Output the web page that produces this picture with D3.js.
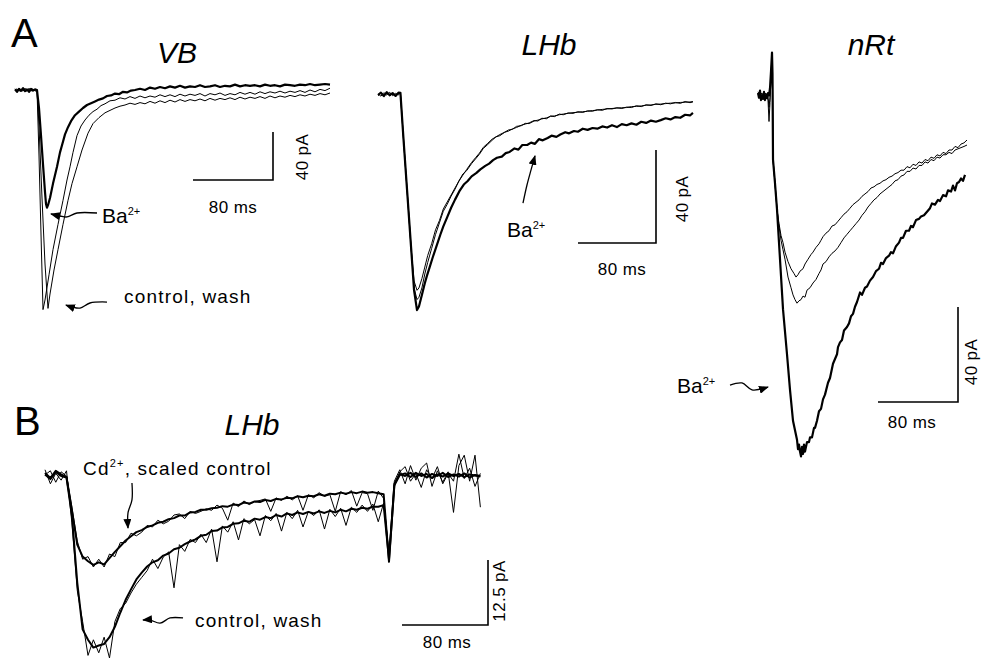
<!DOCTYPE html>
<html>
<head>
<meta charset="utf-8">
<script src="https://cdn.jsdelivr.net/npm/d3@7"></script>
<style>
  body { margin: 0; background: #fff; }
  svg { display: block; }
  text { font-family: "Liberation Sans", Arial, Helvetica, sans-serif; fill: #000; }
</style>
</head>
<body>
<svg id="fig" width="982" height="663"></svg>
<script>
// traces are [time ms, current pA], inward current negative

// --- A, VB ---
const vbBa = [[0,0.5],[2,-1.5],[4,1],[6,-0.5],[8,1.5],[10,-1],[12,0.5],[14,-1.5],[16,1],[18,-0.5],[20,0.5],[22,0],
  [24,-15],[26,-38],[28,-62],[30,-85],[31,-95],[32,-98],[33,-96],[35,-90],[38,-78],[42,-64],[45,-52],[47,-46],[50,-37],[53,-31],[56,-26],[60,-21],[64,-18],[68,-15],[72,-12.5],[76,-11],[80,-9.5],[84,-8],[88,-7],[92,-5],[96,-4.5],[100,-3],[104,-3.5],[108,-1.5],[112,-2],[116,-0.5],[120,0],[125,1],[130,0],[135,2],[140,1],[145,2.5],[150,1.5],[155,3],[160,2],[165,3.5],[170,2],[175,3],[180,2.5],[185,4],[190,2.5],[195,3],[200,4],[205,2.5],[210,3.5],[215,3],[220,4.5],[225,3],[230,4],[235,3.5],[240,4],[245,3],[250,4.5],[255,3.5],[260,4],[265,3],[270,4.5],[275,4],[280,3.5],[285,4.5],[290,4],[295,5],[300,4],[305,4.5],[310,5],[315,4.5]]
const vbControl = [[0,1],[2,-1],[4,0.5],[6,-1.5],[8,1],[10,0],[12,-1],[14,1.5],[16,-0.5],[18,1],[20,-1],[22,0],
  [24,-55],[26,-120],[28,-183],[30,-175],[34,-154],[38,-133],[43,-112],[48,-92],[52,-75],[55,-64],[58,-52],[62,-38],[66,-30],[70,-25],[74,-21],[78,-18],[82,-16],[86,-13],[90,-11.5],[95,-9],[100,-8.5],[105,-6.5],[110,-7.5],[115,-5.5],[120,-7],[125,-5],[130,-6.5],[135,-5],[140,-6],[145,-4],[150,-5.5],[155,-4],[160,-5.5],[165,-3.5],[170,-5],[175,-3.5],[180,-4.5],[185,-3],[190,-5],[195,-3],[200,-4],[205,-2.5],[210,-4.5],[215,-3],[220,-4],[225,-2],[230,-3.5],[235,-2],[240,-3.5],[245,-1.5],[250,-3],[255,-1.5],[260,-2.5],[265,-1],[270,-2.5],[275,-1],[280,-2],[285,-0.5],[290,-2],[295,0],[300,-1.5],[305,0.5],[310,-0.5],[315,1.5]]
const vbWash = [[0,-0.5],[2,1],[4,-1],[6,0.5],[8,-1],[10,1.5],[12,-0.5],[14,0.5],[16,-1],[18,0.5],[20,0],[22,0],
  [24,-30],[27,-90],[30,-145],[33,-182],[35,-170],[39,-150],[43,-133],[48,-112],[53,-92],[57,-78],[62,-64],[67,-50],[73,-36],[78,-28],[84,-23],[90,-19],[95,-17],[100,-15],[105,-13.5],[110,-12.5],[115,-11],[120,-12],[125,-10.5],[130,-11.5],[135,-9.5],[140,-11],[145,-9],[150,-10.5],[155,-8.5],[160,-10],[165,-8],[170,-9.5],[175,-8],[180,-9],[185,-7.5],[190,-9],[195,-7],[200,-8.5],[205,-7],[210,-8],[215,-6.5],[220,-8],[225,-6],[230,-7.5],[235,-6],[240,-7],[245,-5.5],[250,-7],[255,-5],[260,-6.5],[265,-5],[270,-6],[275,-4.5],[280,-5.5],[285,-4],[290,-5],[295,-3.5],[300,-4.5],[305,-3],[310,-4],[315,-2.5]]

// --- A, LHb ---
const lhbBa = [[0,0],[3,1],[6,-0.5],[9,1.2],[12,0],[15,0.8],[18,-0.4],[21,1],[23,0.9],[26,-18],[30,-42],[34,-66],[37,-84],[40,-92.5],[42,-91],[45,-86],[48,-81],[50,-78],[53,-74],[56,-70],[60,-65],[64,-60],[67,-56.5],[71,-52.5],[75,-48.5],[79,-45],[84,-41],[88,-38.5],[92,-37],[96,-35],[101,-33.5],[105,-32],[110,-30.5],[114,-29.5],[118,-28],[122,-27],[127,-26.5],[131,-25],[135,-24.5],[140,-23],[144,-23.5],[148,-21.5],[153,-21.5],[157,-20.5],[161,-21],[165,-19],[169,-19.5],[174,-18.5],[178,-17.5],[183,-18],[187,-17],[192,-16],[196,-16.5],[201,-15.5],[205,-15.8],[210,-14.5],[215,-15],[220,-14.2],[225,-14.5],[230,-13.5],[235,-14],[240,-13],[245,-13.8],[250,-12.5],[255,-13],[260,-12.2],[265,-12.8],[270,-11.5],[275,-12],[280,-11],[285,-11.5],[290,-10.8],[295,-10],[300,-10.5],[305,-9.5],[310,-9.8],[315,-8.5],[320,-8.8],[323,-7.7]]
const lhbControl = [[0,0.5],[3,-0.5],[6,1],[9,0],[12,1.2],[15,-0.3],[18,0.7],[21,0],[23,1],[26,-18],[30,-42],[34,-66],[37,-80],[40,-84],[42,-83],[45,-79],[48,-74],[51,-69],[55,-64],[59,-58],[63,-54],[67,-49],[71,-46],[75,-43],[79,-40],[83,-37],[87,-34.5],[91,-32],[96,-29],[100,-27],[104,-25],[108,-22.5],[112,-21],[117,-19],[121,-18],[125,-17],[130,-16],[134,-15.5],[138,-14.5],[142,-14],[147,-13],[151,-12.5],[155,-12],[160,-11],[164,-11.2],[168,-10],[173,-10.2],[177,-9],[181,-9.3],[186,-8.2],[190,-8.5],[195,-7.7],[200,-7.9],[205,-7.2],[210,-7.5],[215,-6.8],[220,-7],[225,-6.3],[230,-6.6],[235,-5.8],[240,-6],[245,-5.5],[250,-5.8],[255,-5.2],[260,-5.4],[265,-4.6],[270,-5],[275,-4.2],[280,-4.5],[285,-3.8],[290,-4.2],[295,-3.5],[300,-3.8],[305,-3.2],[310,-3.6],[315,-2.8],[320,-3.3],[323,-3]]
const lhbWash = [[0,-0.3],[3,0.8],[6,0],[9,1],[12,-0.5],[15,0.6],[18,0],[21,0.8],[23,0.5],[26,-18],[30,-42],[34,-66],[37,-83],[40,-88],[42,-87],[45,-83],[48,-77],[51,-72],[55,-66],[59,-60],[63,-55],[67,-50],[71,-47],[75,-43.5],[79,-40.5],[83,-37],[87,-34],[91,-32.5],[96,-29.5],[100,-27.5],[104,-25.5],[108,-23],[112,-21.5],[117,-19.5],[121,-18],[125,-17.5],[130,-16],[134,-15],[138,-14.8],[142,-13.5],[147,-13.2],[151,-12.2],[155,-12.3],[160,-11.2],[164,-10.8],[168,-10.3],[173,-9.8],[177,-9.2],[181,-9],[186,-8.5],[190,-8.2],[195,-7.9],[200,-7.6],[205,-7.4],[210,-7.2],[215,-7],[220,-6.7],[225,-6.5],[230,-6.2],[235,-6],[240,-5.8],[245,-5.6],[250,-5.5],[255,-5.4],[260,-5],[265,-4.9],[270,-4.7],[275,-4.4],[280,-4.3],[285,-4],[290,-3.9],[295,-3.7],[300,-3.5],[305,-3.4],[310,-3.2],[315,-3.1],[320,-3],[323,-2.8]]

// --- A, nRt ---
const nrtBa = [[0,0],[1,-2],[2,1],[3,-3],[4,-1],[5,-2.5],[6,0.5],[7,-3],[8,-1],[9,-2],[10,0],[11,-1],[12,2],[13,9],[14,17],[14.5,8],[15,-28],[17,-38],[19,-49],[22,-70],[25,-91],[29,-110],[32,-125],[35,-138],[37,-142],[39,-146],[40,-150],[41,-148],[42,-151],[43,-153],[44,-149],[45,-152],[46,-148],[47,-151],[49,-147],[51,-147],[52,-145],[54,-145],[56,-141],[57,-141],[59,-138],[61,-134],[63,-133],[65,-129],[67,-127],[70,-122],[72,-120],[75,-114],[77,-112],[79,-110],[80,-107],[82,-105],[84,-104],[86,-100],[89,-98.5],[91,-97],[93,-94],[95,-93],[97,-90],[99,-88],[102,-84],[104,-85],[107,-82],[109,-81.5],[112,-79],[115,-77.5],[118,-75],[121,-74],[123,-71.5],[125,-72],[128,-69.5],[131,-68.5],[133,-67],[135,-67.5],[138,-64.5],[141,-63],[143,-61],[145,-61],[148,-58],[151,-58],[153,-56],[155,-56.5],[158,-53.5],[161,-53],[163,-52],[166,-51.5],[169,-50],[172,-48.5],[174,-46.5],[177,-47],[180,-45],[182,-45.5],[185,-43],[188,-43.5],[190,-41],[193,-41.5],[195,-39],[197,-41],[199,-38],[201,-37.5],[203,-36],[205,-37],[207,-34.5]]
const nrtControl = [[0,-0.5],[2,0.5],[4,-2],[6,-1],[8,0],[10,-3],[11,-12],[12,-4],[13,8],[14,16],[14.5,5],[15,-28],[17,-38],[19,-49],[21,-55],[23,-60],[25,-63],[27,-67],[30,-71],[33,-74],[36,-76],[38,-77.5],[40,-76.5],[42,-75],[45,-74],[47,-72],[50,-70],[53,-68],[55,-67],[58,-65],[61,-63.5],[63,-62],[65,-60.5],[68,-59],[71,-58],[74,-56],[77,-55.5],[80,-54],[83,-52.5],[86,-51],[89,-50],[92,-48.5],[95,-47],[98,-46],[101,-45],[104,-43.5],[107,-42.5],[110,-41.5],[113,-40],[116,-39.5],[119,-38.5],[122,-38],[125,-37],[128,-36.5],[131,-35.5],[134,-35],[137,-34],[140,-33.5],[143,-32.5],[146,-32.5],[149,-31],[152,-31.5],[155,-30],[158,-30.5],[161,-29],[164,-29.5],[167,-28],[170,-28.5],[173,-27],[176,-27.5],[179,-26],[182,-26.5],[185,-25],[188,-25.5],[191,-24],[194,-24],[197,-22.5],[200,-23],[203,-21.5],[206,-21],[209,-19.8]]
const nrtWash = [[0,0.5],[2,-1],[4,0],[6,-2],[8,-0.5],[10,-1.5],[11,-6],[12,-2],[13,7],[14,15],[14.5,4],[15,-28],[17,-38],[19,-49],[21,-56],[23,-62],[25,-66],[27,-70],[30,-77.5],[33,-82],[35,-85],[37,-87],[39,-88.5],[41,-87.5],[43,-87],[45,-85.5],[47,-86],[49,-83],[52,-82],[55,-80],[58,-78.5],[61,-76],[63,-74.5],[65,-72],[68,-71],[71,-69],[74,-67.5],[77,-66.5],[80,-65],[83,-63],[86,-61],[89,-59.5],[92,-58],[95,-56.5],[98,-55],[101,-53.5],[104,-51.5],[107,-50],[110,-48],[113,-46.5],[116,-45],[119,-44],[122,-42.5],[125,-41.5],[128,-40.5],[131,-39.5],[134,-38.5],[137,-37],[140,-36.5],[143,-35],[146,-34.5],[149,-33],[152,-33],[155,-31.6],[158,-32],[161,-30.5],[164,-30.5],[167,-29],[170,-29.5],[173,-28],[176,-28.5],[179,-27],[182,-27.4],[185,-26],[188,-26],[191,-25],[194,-25.5],[197,-24],[200,-23.5],[203,-23],[206,-22.5],[209,-21.9]]

// --- B, LHb: one sample every bStep ms ---
const bStep = 5
const bCd = [0.6,-0.4,1,0.3,-0.2, -6.5,-13.2,-15.5,-16.4,-17.1, -16.6,-17,-15.8,-14.6,-13.5, -12.4,-11.6,-10.8,-10.4,-9.8, -9.5,-9,-8.8,-8.3,-8.1, -7.6,-7.6,-7,-6.9,-6.5, -6.5,-6.2,-6.1,-5.8,-5.9, -5.5,-5.6,-5.1,-5.3,-4.9, -5,-4.6,-4.8,-4.4,-4.5, -4.2,-4.3,-3.9,-4.1,-3.8, -3.9,-3.5,-3.8,-3.4,-3.5, -3.2,-3.4,-3.1,-3.3,-3, -3.2,-3.1,-3.3,-3.5,-16.5, -1.5,0.4,0,0.6,-0.2, 0.5,-0.3,0.4,0,0.6, -0.2,0.3,-0.1,0.5,-0.3, 0.2,0]
const bScaledCtl = [0.2,1,-1.2,0.8,0, -6,-12.5,-16,-15.5,-17.5, -16,-17.5,-15,-15.5,-12.8, -12.8,-11,-11.5,-10.8,-9.5, -9.8,-8.5,-9.2,-8.7,-7.5, -7.3,-8.2,-6.8,-7.2,-6.8, -6.3,-6.6,-5.6,-6.2,-8.5, -5.2,-5.9,-4.8,-5.5,-4.9, -4.7,-4.4,-6.8,-4.2,-4.7, -3.9,-4.6,-3.8,-6.6,-3.6, -4.2,-3.2,-3.9,-3.6,-6.8, -3,-3.6,-2.8,-5.8,-3.2, -3.4,-6.6,-2.9,-4.3,-15.5, -2,0.8,1.8,-1,0.5, -2.2,1.2,-0.5,1.8,-1.5, 0.5,-1,4.2,-0.5,1.5, -2,0.5]
const bControl = [0.3,-0.6,0.8,0,-0.3, -7.5,-20.5,-29.5,-31.5,-33, -32.6,-32.3,-31,-29,-26.3, -23.8,-21.8,-19.9,-18.6,-17.4, -16.6,-16.2,-15.3,-14.9,-14.1, -13.8,-13.1,-12.6,-12.2,-11.5, -11.3,-10.6,-10.5,-9.9,-9.8, -9.2,-9.1,-8.6,-8.8,-8.2, -8.4,-7.9,-8.1,-7.5,-7.8, -7.2,-7.5,-7,-7.3,-6.9, -7.2,-6.8,-7.1,-6.7,-7, -6.5,-6.8,-6.3,-6.5,-6.1, -6.3,-5.9,-5.9,-5.6,-16, -1.8,0.2,0.5,-0.2,0.6, 0,0.4,-0.4,0.3,-0.1, 0.5,0,0.4,-0.2,0.3, 0.1,-0.1]
const bWash = [1.2,-1.5,0.5,-0.8,1, -9,-22,-28,-34.5,-31.5, -34,-31,-35,-28,-25.5, -24.5,-22.5,-20.8,-19.5,-18.2, -16,-17.8,-15.6,-14.6,-21.5, -13.2,-14.5,-12.2,-12.8,-11.2, -12.8,-10.2,-16.5,-9.6,-10.8, -8.8,-12.3,-8.2,-9.2,-8.4, -11.5,-7.6,-8.6,-7.2,-10.6, -7,-8.2,-6.6,-9.8,-6.8, -7.6,-6.5,-10.2,-6.4,-7.8, -6.2,-9.5,-6,-7,-5.6, -6.8,-5.4,-8.8,-5.2,-15, -1,1.2,-1.5,2,-0.8, 1.5,2.5,-2,1,-1.2, 0.8,-7,2,4,-1, 4,-6]

// scale bar sizes
const barMs = 80
const barPaA = 40
const barPaB = 12.5

// arrows, in each panel's own data units (ms, pA)
const vbBaArrow = [[82,-102.5],[62,-102.5],[52,-105.8],[45,-105],[36,-103.3]]
const vbCtlArrow = [[92,-176.7],[75,-177.5],[65,-181.7],[57,-180.8],[51,-179.2]]
const lhbBaArrow = [[148.7,-46.5],[152.8,-38.7],[156.9,-32.3],[161,-26.2]]
const nrtBaArrow = [[-28,-123],[-16,-122.1],[-6,-125],[10,-123.8]]
const bCdArrow = [[80.9,-1.35],[80.9,-4.6],[77.2,-7.1],[77.2,-10]]
const bCtlArrow = [[128.4,-27.3],[116.3,-27.3],[107,-28.3],[97.7,-27.7],[91.2,-27.7]]

let svg = d3.select("#fig")

svg.append("defs").append("marker")
    .attr("id", "head")
    .attr("markerUnits", "userSpaceOnUse")
    .attr("viewBox", "0 0 10 8")
    .attr("refX", 9).attr("refY", 4)
    .attr("markerWidth", 10).attr("markerHeight", 8)
    .attr("orient", "auto")
  .append("path")
    .attr("d", "M0,0 L10,4 L0,8 Z")
    .attr("fill", "#000")

// panel layout: origin (x0,y0) in px, px per bar length
function panel(x0, y0, wBar, hBar, paBar){
  return {
    x: d3.scaleLinear().domain([0, barMs]).range([x0, x0 + wBar]),
    y: d3.scaleLinear().domain([0, -paBar]).range([y0, y0 + hBar]),
    pa: paBar
  }
}
let pVB = panel(15, 90, 80, 48, barPaA)
let pLHb = panel(378, 95, 78, 93, barPaA)
let pNRt = panel(758, 93, 80, 95, barPaA)
let pB = panel(45, 476, 86, 65, barPaB)

function trace(p, data, w){
  svg.append("path")
    .datum(data)
    .attr("d", d3.line().x(d => p.x(d[0])).y(d => p.y(d[1])))
    .attr("fill", "none")
    .attr("stroke", "#000")
    .attr("stroke-width", w)
    .attr("stroke-linejoin", "round")
}
function arrow(p, pts){
  svg.append("path")
    .datum(pts)
    .attr("d", d3.line().x(d => p.x(d[0])).y(d => p.y(d[1])).curve(d3.curveCatmullRom))
    .attr("fill", "none")
    .attr("stroke", "#000")
    .attr("stroke-width", 1.3)
    .attr("marker-end", "url(#head)")
}
// corner at (cx,cy), lengths from the panel scales
function scaleBar(p, cx, cy){
  let w = p.x(barMs) - p.x(0), h = p.y(-p.pa) - p.y(0)
  svg.append("path")
    .attr("d", `M${cx - w},${cy} H${cx} V${cy - h}`)
    .attr("fill", "none").attr("stroke", "#000").attr("stroke-width", 1.6)
}
function label(x, y, txt, size, opts = {}){
  let t = svg.append("text").attr("x", x).attr("y", y)
    .attr("font-size", size)
    .attr("text-anchor", opts.anchor || "start")
    .style("letter-spacing", (opts.ls || 0) + "px")
  if (opts.italic) t.attr("font-style", "italic")
  if (opts.rot) t.attr("transform", `rotate(-90,${x},${y})`)
  t.append("tspan").text(txt)
  if (opts.sup) {
    t.append("tspan").attr("dy", -8).attr("font-size", 11).text(opts.sup)
    if (opts.after) t.append("tspan").attr("dy", 8).text(opts.after)
  }
  return t
}

// traces, thin first and thick on top
trace(pVB, vbControl, 1)
trace(pVB, vbWash, 1)
trace(pVB, vbBa, 2.2)
trace(pLHb, lhbControl, 1)
trace(pLHb, lhbWash, 1)
trace(pLHb, lhbBa, 2.2)
trace(pNRt, nrtControl, 1)
trace(pNRt, nrtWash, 1)
trace(pNRt, nrtBa, 2.2)
let bData = arr => arr.map((v, i) => [i * bStep, v])
trace(pB, bData(bScaledCtl), 1)
trace(pB, bData(bWash), 1)
trace(pB, bData(bCd), 2)
trace(pB, bData(bControl), 2)

arrow(pVB, vbBaArrow)
arrow(pVB, vbCtlArrow)
arrow(pLHb, lhbBaArrow)
arrow(pNRt, nrtBaArrow)
arrow(pB, bCdArrow)
arrow(pB, bCtlArrow)

scaleBar(pVB, 273, 180)
scaleBar(pLHb, 656, 243)
scaleBar(pNRt, 958, 402)
scaleBar(pB, 488, 625)

// text
label(11, 47, "A", 40)
label(14, 435, "B", 40)
label(177, 63, "VB", 30, {italic: true, anchor: "middle"})
label(549, 55, "LHb", 30, {italic: true, anchor: "middle"})
label(871, 55, "nRt", 30, {italic: true, anchor: "middle"})
label(252, 435, "LHb", 30, {italic: true, anchor: "middle"})

label(233, 213, "80 ms", 17, {anchor: "middle", ls: 0.4})
label(622, 275, "80 ms", 17, {anchor: "middle", ls: 0.4})
label(912, 428, "80 ms", 17, {anchor: "middle", ls: 0.4})
label(447, 648, "80 ms", 17, {anchor: "middle", ls: 0.4})
label(308, 157, "40 pA", 17, {anchor: "middle", rot: true, ls: 0.4})
label(688, 199, "40 pA", 17, {anchor: "middle", rot: true, ls: 0.4})
label(977, 362, "40 pA", 17, {anchor: "middle", rot: true, ls: 0.4})
label(505, 591, "12.5 pA", 17, {anchor: "middle", rot: true, ls: 0.4})

label(102, 223, "Ba", 21, {sup: "2+"})
label(507, 237, "Ba", 21, {sup: "2+"})
label(677, 393, "Ba", 21, {sup: "2+"})
label(124, 303, "control, wash", 19, {ls: 1.2})
label(195, 627, "control, wash", 19, {ls: 1.2})
label(83, 475, "Cd", 19, {sup: "2+", after: ", scaled control", ls: 1.2})
</script>
</body>
</html>
